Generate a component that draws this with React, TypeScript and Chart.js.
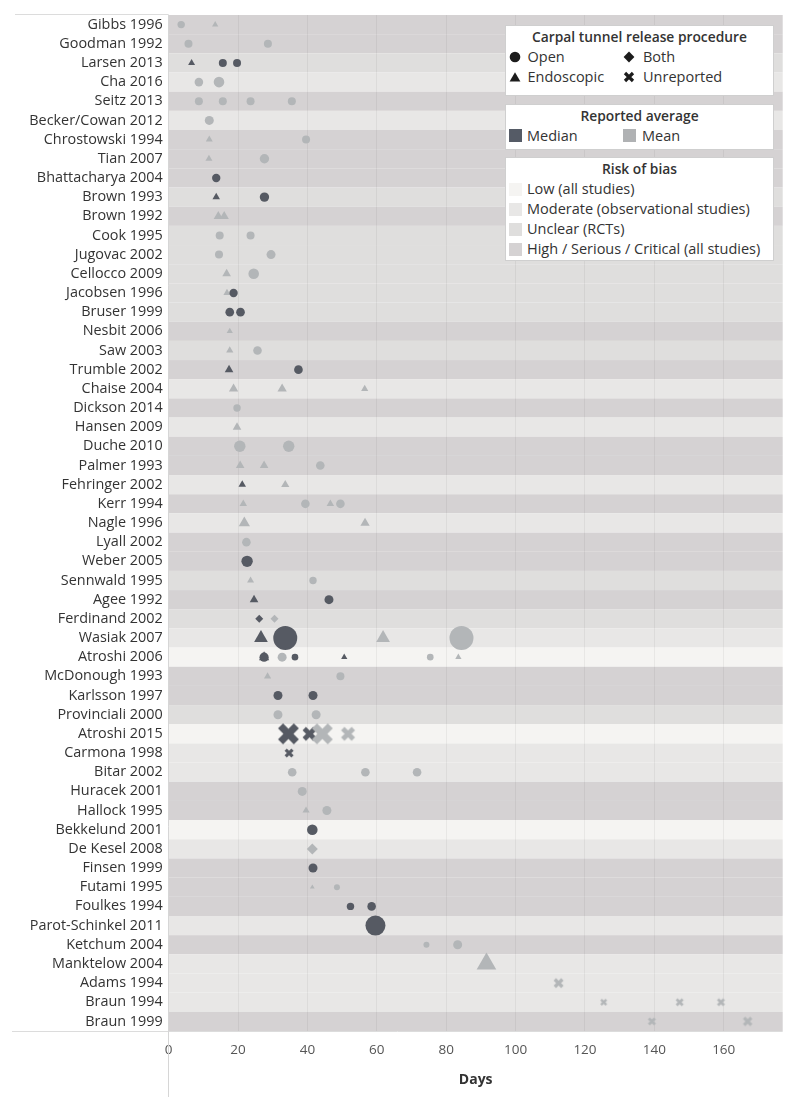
import React, { useEffect, useRef } from 'react';
import { Chart, registerables } from 'chart.js';

Chart.register(...registerables);

const FONT = '"Open Sans", "Noto Sans", sans-serif';

// ---------- categories ----------
const studies: string[] = [
  'Gibbs 1996', 'Goodman 1992', 'Larsen 2013', 'Cha 2016', 'Seitz 2013', 'Becker/Cowan 2012',
  'Chrostowski 1994', 'Tian 2007', 'Bhattacharya 2004', 'Brown 1993', 'Brown 1992', 'Cook 1995',
  'Jugovac 2002', 'Cellocco 2009', 'Jacobsen 1996', 'Bruser 1999', 'Nesbit 2006', 'Saw 2003',
  'Trumble 2002', 'Chaise 2004', 'Dickson 2014', 'Hansen 2009', 'Duche 2010', 'Palmer 1993',
  'Fehringer 2002', 'Kerr 1994', 'Nagle 1996', 'Lyall 2002', 'Weber 2005', 'Sennwald 1995',
  'Agee 1992', 'Ferdinand 2002', 'Wasiak 2007', 'Atroshi 2006', 'McDonough 1993', 'Karlsson 1997',
  'Provinciali 2000', 'Atroshi 2015', 'Carmona 1998', 'Bitar 2002', 'Huracek 2001', 'Hallock 1995',
  'Bekkelund 2001', 'De Kesel 2008', 'Finsen 1999', 'Futami 1995', 'Foulkes 1994',
  'Parot-Schinkel 2011', 'Ketchum 2004', 'Manktelow 2004', 'Adams 1994', 'Braun 1994', 'Braun 1999',
];

// L = low, M = moderate, U = unclear, H = high
const riskOfBias: string[] = [
  'H', 'H', 'U', 'M', 'H', 'M', 'H', 'H', 'H', 'U', 'H', 'U', 'U', 'U', 'U', 'U', 'H', 'U',
  'H', 'M', 'H', 'M', 'H', 'H', 'M', 'H', 'M', 'H', 'H', 'U', 'H', 'U', 'M', 'L', 'H', 'H',
  'U', 'L', 'M', 'M', 'H', 'H', 'L', 'M', 'H', 'H', 'H', 'M', 'H', 'M', 'M', 'M', 'H',
];

// ---------- series: [study, days, sample size (marker weight)] ----------
type Row = [string, number, number];

const openMedian: Row[] = [
  ['Larsen 2013', 15.6, 64], ['Larsen 2013', 19.7, 64],
  ['Bhattacharya 2004', 13.7, 70],
  ['Brown 1993', 27.6, 88],
  ['Jacobsen 1996', 18.7, 70],
  ['Bruser 1999', 17.6, 75], ['Bruser 1999', 20.7, 75],
  ['Trumble 2002', 37.4, 75],
  ['Weber 2005', 22.6, 130],
  ['Agee 1992', 46.2, 81],
  ['Wasiak 2007', 33.6, 576],
  ['Atroshi 2006', 27.5, 85], ['Atroshi 2006', 36.4, 44],
  ['Karlsson 1997', 31.5, 81], ['Karlsson 1997', 41.6, 81],
  ['Bekkelund 2001', 41.4, 112],
  ['Finsen 1999', 41.6, 81],
  ['Foulkes 1994', 52.4, 55], ['Foulkes 1994', 58.5, 74],
  ['Parot-Schinkel 2011', 59.6, 400],
];

const openMean: Row[] = [
  ['Gibbs 1996', 3.6, 55],
  ['Goodman 1992', 5.7, 64], ['Goodman 1992', 28.6, 64],
  ['Cha 2016', 8.7, 74], ['Cha 2016', 14.5, 112],
  ['Seitz 2013', 8.7, 64], ['Seitz 2013', 15.6, 64], ['Seitz 2013', 23.6, 64], ['Seitz 2013', 35.5, 64],
  ['Becker/Cowan 2012', 11.7, 81],
  ['Chrostowski 1994', 39.6, 64],
  ['Tian 2007', 27.6, 88],
  ['Cook 1995', 14.7, 64], ['Cook 1995', 23.6, 64],
  ['Jugovac 2002', 14.5, 64], ['Jugovac 2002', 29.5, 81],
  ['Cellocco 2009', 24.5, 112],
  ['Saw 2003', 25.6, 74],
  ['Dickson 2014', 19.7, 55],
  ['Duche 2010', 20.5, 130], ['Duche 2010', 34.6, 130],
  ['Palmer 1993', 43.7, 74],
  ['Kerr 1994', 39.4, 74], ['Kerr 1994', 49.5, 74],
  ['Lyall 2002', 22.4, 74],
  ['Sennwald 1995', 41.6, 55],
  ['Wasiak 2007', 84.4, 576],
  ['Atroshi 2006', 32.7, 81], ['Atroshi 2006', 75.4, 44],
  ['McDonough 1993', 49.5, 64],
  ['Provinciali 2000', 31.5, 81], ['Provinciali 2000', 42.5, 81],
  ['Bitar 2002', 35.6, 74], ['Bitar 2002', 56.7, 74], ['Bitar 2002', 71.6, 74],
  ['Huracek 2001', 38.5, 81],
  ['Hallock 1995', 45.6, 81],
  ['Futami 1995', 48.5, 36],
  ['Ketchum 2004', 74.3, 36], ['Ketchum 2004', 83.3, 81],
];

const endoscopicMedian: Row[] = [
  ['Larsen 2013', 6.6, 36],
  ['Brown 1993', 13.7, 42],
  ['Trumble 2002', 17.4, 55],
  ['Fehringer 2002', 21.2, 42],
  ['Agee 1992', 24.6, 55],
  ['Wasiak 2007', 26.6, 140],
  ['Atroshi 2006', 27.5, 78], ['Atroshi 2006', 50.6, 29],
];

const endoscopicMean: Row[] = [
  ['Gibbs 1996', 13.4, 29],
  ['Chrostowski 1994', 11.7, 36],
  ['Tian 2007', 11.6, 36],
  ['Brown 1992', 14.3, 64], ['Brown 1992', 16.0, 64],
  ['Cellocco 2009', 16.7, 55],
  ['Jacobsen 1996', 16.8, 38],
  ['Nesbit 2006', 17.6, 29],
  ['Saw 2003', 17.6, 38],
  ['Chaise 2004', 18.7, 64], ['Chaise 2004', 32.7, 64], ['Chaise 2004', 56.5, 38],
  ['Hansen 2009', 19.7, 55],
  ['Palmer 1993', 20.6, 55], ['Palmer 1993', 27.5, 55],
  ['Fehringer 2002', 33.6, 50],
  ['Kerr 1994', 21.5, 42], ['Kerr 1994', 46.6, 42],
  ['Nagle 1996', 21.8, 94], ['Nagle 1996', 56.6, 64],
  ['Sennwald 1995', 23.6, 36],
  ['Wasiak 2007', 61.8, 140],
  ['Atroshi 2006', 83.5, 29],
  ['McDonough 1993', 28.5, 38],
  ['Hallock 1995', 39.6, 38],
  ['Futami 1995', 41.4, 17],
  ['Manktelow 2004', 91.6, 286],
];

const bothMedian: Row[] = [['Ferdinand 2002', 26.1, 44]];
const bothMean: Row[] = [['Ferdinand 2002', 30.5, 44], ['De Kesel 2008', 41.4, 84]];

const unreportedMedian: Row[] = [
  ['Atroshi 2015', 34.5, 364], ['Atroshi 2015', 40.6, 162],
  ['Carmona 1998', 34.7, 67],
];
const unreportedMean: Row[] = [
  ['Atroshi 2015', 44.3, 364], ['Atroshi 2015', 51.7, 162],
  ['Adams 1994', 112.4, 83],
  ['Braun 1994', 125.4, 40], ['Braun 1994', 147.3, 53], ['Braun 1994', 159.2, 53],
  ['Braun 1999', 139.3, 53], ['Braun 1999', 166.9, 75],
];

// ---------- legend text ----------
const procedureLabels = ['Open', 'Both', 'Endoscopic', 'Unreported'];
const averageLabels = ['Median', 'Mean'];
const riskLabels = ['Low (all studies)', 'Moderate (observational studies)', 'Unclear (RCTs)', 'High / Serious / Critical (all studies)'];
const xTickStep = 20;
const xMax = 177;

// ---------- styles ----------
const DARK = '#565a63';
const LIGHT = '#b3b6b8';
const riskColors: Record<string, string> = { L: '#f5f4f2', M: '#e8e7e6', U: '#dfdedd', H: '#d5d2d3' };
const riskOrder = ['L', 'M', 'U', 'H'];

function makeCross(size: number, color: string): HTMLCanvasElement {
  const W = Math.ceil(size) + 2;
  const c = document.createElement('canvas');
  c.width = W;
  c.height = W;
  const g = c.getContext('2d')!;
  const lw = size * 0.34;
  const m = (W - size) / 2 + lw * 0.36;
  g.strokeStyle = color;
  g.lineWidth = lw;
  g.lineCap = 'butt';
  g.beginPath();
  g.moveTo(m, m);
  g.lineTo(W - m, W - m);
  g.moveTo(W - m, m);
  g.lineTo(m, W - m);
  g.stroke();
  return c;
}

type Shape = 'circle' | 'triangle' | 'rectRot' | 'cross';
const shapeFactor: Record<Shape, number> = { circle: 0.5, triangle: 0.67, rectRot: 0.6, cross: 1.1 };

function buildDataset(label: string, rows: Row[], shape: Shape, color: string) {
  const sizes = rows.map((r) => Math.sqrt(r[2]) * shapeFactor[shape]);
  return {
    label,
    data: rows.map((r) => ({ x: r[1], y: r[0] })),
    backgroundColor: color,
    borderWidth: 0,
    pointBorderWidth: 0,
    pointRadius: shape === 'cross' ? sizes.map((s) => s / 2) : sizes,
    pointHoverRadius: shape === 'cross' ? sizes.map((s) => s / 2) : sizes,
    pointStyle: shape === 'cross' ? sizes.map((s) => makeCross(s, color)) : shape,
  };
}

const bandsPlugin = {
  id: 'riskBands',
  beforeDraw(chart: any) {
    const { ctx, chartArea: a, scales } = chart;
    const y = scales.y;
    const band = a.height / studies.length;
    ctx.save();
    studies.forEach((_s, i) => {
      const cy = y.getPixelForValue(i);
      ctx.fillStyle = riskColors[riskOfBias[i]];
      ctx.fillRect(a.left, cy - band / 2, a.right - a.left, band);
    });
    ctx.strokeStyle = '#dcdcdc';
    ctx.lineWidth = 1;
    ctx.beginPath();
    ctx.moveTo(15, Math.round(a.top) - 0.5);
    ctx.lineTo(a.left, Math.round(a.top) - 0.5);
    ctx.moveTo(12, Math.round(a.bottom) + 0.5);
    ctx.lineTo(a.right, Math.round(a.bottom) + 0.5);
    ctx.stroke();
    ctx.restore();
  },
  afterDraw(chart: any) {
    const { ctx, chartArea: a } = chart;
    ctx.save();
    ctx.strokeStyle = '#d6d6d6';
    ctx.lineWidth = 1;
    ctx.beginPath();
    const x = Math.round(a.left) - 0.5;
    ctx.moveTo(x, a.top);
    ctx.lineTo(x, 1097);
    ctx.stroke();
    ctx.restore();
  },
};

const textStyle = (extra: React.CSSProperties): React.CSSProperties => ({
  position: 'absolute',
  height: 20,
  lineHeight: '20px',
  fontSize: 14.5,
  color: '#333',
  whiteSpace: 'nowrap',
  ...extra,
});

function Icon({ shape, cx, cy }: { shape: string; cx: number; cy: number }) {
  let el: React.ReactNode = null;
  if (shape === 'circle') el = <circle cx={6} cy={6} r={5.3} fill="#1c1c1c" />;
  if (shape === 'triangle') el = <polygon points="6,1.2 11.4,10.6 0.6,10.6" fill="#1c1c1c" />;
  if (shape === 'diamond') el = <polygon points="6,0.6 11.4,6 6,11.4 0.6,6" fill="#1c1c1c" />;
  if (shape === 'cross')
    el = <path d="M2,2 L10,10 M10,2 L2,10" stroke="#1c1c1c" strokeWidth={3.2} />;
  return (
    <svg width={12} height={12} style={{ position: 'absolute', left: cx - 6, top: cy - 6 }}>
      {el}
    </svg>
  );
}

function Swatch({ x, cy, color }: { x: number; cy: number; color: string }) {
  return <div style={{ position: 'absolute', left: x, top: cy - 6.5, width: 13, height: 13, background: color }} />;
}

const boxStyle = (top: number, height: number): React.CSSProperties => ({
  position: 'absolute',
  left: 505,
  top,
  width: 269,
  height,
  background: '#fff',
  border: '1px solid #cfcfcf',
  boxSizing: 'border-box',
});

const titleStyle = (top: number) =>
  textStyle({ left: 505, width: 269, textAlign: 'center', top, fontWeight: 600, fontSize: 13.8 });

export default function App() {
  const ref = useRef<HTMLCanvasElement | null>(null);

  useEffect(() => {
    if (!ref.current) return;
    const datasets = [
      buildDataset('Unreported – Mean', unreportedMean, 'cross', LIGHT),
      buildDataset('Unreported – Median', unreportedMedian, 'cross', DARK),
      buildDataset('Open – Median', openMedian, 'circle', DARK),
      buildDataset('Endoscopic – Median', endoscopicMedian, 'triangle', DARK),
      buildDataset('Both – Median', bothMedian, 'rectRot', DARK),
      buildDataset('Open – Mean', openMean, 'circle', LIGHT),
      buildDataset('Endoscopic – Mean', endoscopicMean, 'triangle', LIGHT),
      buildDataset('Both – Mean', bothMean, 'rectRot', LIGHT),
    ];
    const chart = new Chart(ref.current, {
      type: 'scatter',
      data: { datasets: datasets as any },
      options: {
        responsive: false,
        animation: false,
        devicePixelRatio: 1,
        events: [],
        layout: { padding: { top: 15, right: 17.3, left: 0, bottom: 0 } },
        plugins: { legend: { display: false }, tooltip: { enabled: false } },
        scales: {
          x: {
            type: 'linear',
            position: 'bottom',
            min: 0,
            max: xMax,
            ticks: {
              stepSize: xTickStep,
              includeBounds: false,
              padding: 11,
              maxRotation: 0,
              color: '#555',
              font: { family: FONT, size: 13.5 },
            },
            grid: { color: 'rgba(0,0,0,0.05)', drawTicks: false },
            border: { display: false },
            title: {
              display: true,
              text: 'Days',
              color: '#333',
              font: { family: FONT, size: 14, weight: 'bold' },
              padding: { top: 0, bottom: 24.6 },
            },
            afterFit: (s: any) => {
              s.height = 82;
            },
          },
          y: {
            type: 'category',
            labels: studies,
            offset: true,
            position: 'left',
            ticks: { autoSkip: false, padding: 6, color: '#333', font: { family: FONT, size: 14.4 } },
            grid: { display: false, drawTicks: false },
            border: { display: false },
            afterFit: (s: any) => {
              s.width = 168.7;
            },
          },
        } as any,
      },
      plugins: [bandsPlugin],
    });
    return () => chart.destroy();
  }, []);

  return (
    <div style={{ position: 'absolute', left: 0, top: 0, width: 800, height: 1113, background: '#fff', fontFamily: FONT, overflow: 'hidden' }}>
      <canvas ref={ref} width={800} height={1113} style={{ position: 'absolute', left: 0, top: 0 }} />

      <div style={boxStyle(25, 71)} />
      <div style={titleStyle(27.3)}>Carpal tunnel release procedure</div>
      <Icon shape="circle" cx={515} cy={56.7} />
      <div style={textStyle({ left: 527.5, top: 46.7 })}>{procedureLabels[0]}</div>
      <Icon shape="diamond" cx={629} cy={56.7} />
      <div style={textStyle({ left: 643, top: 46.7 })}>{procedureLabels[1]}</div>
      <Icon shape="triangle" cx={515} cy={77.3} />
      <div style={textStyle({ left: 527.5, top: 67.3 })}>{procedureLabels[2]}</div>
      <Icon shape="cross" cx={629} cy={77.3} />
      <div style={textStyle({ left: 643, top: 67.3 })}>{procedureLabels[3]}</div>

      <div style={boxStyle(104, 46)} />
      <div style={titleStyle(106)}>Reported average</div>
      <Swatch x={509} cy={135.7} color="#555b66" />
      <div style={textStyle({ left: 527, top: 125.7 })}>{averageLabels[0]}</div>
      <Swatch x={623} cy={135.7} color="#b0b2b4" />
      <div style={textStyle({ left: 642, top: 125.7 })}>{averageLabels[1]}</div>

      <div style={boxStyle(157, 104)} />
      <div style={titleStyle(159)}>Risk of bias</div>
      {riskLabels.map((lab, i) => (
        <React.Fragment key={lab}>
          <Swatch x={509} cy={189.3 + i * 20} color={riskColors[riskOrder[i]]} />
          <div style={textStyle({ left: 527, top: 179.3 + i * 20 })}>{lab}</div>
        </React.Fragment>
      ))}
    </div>
  );
}
